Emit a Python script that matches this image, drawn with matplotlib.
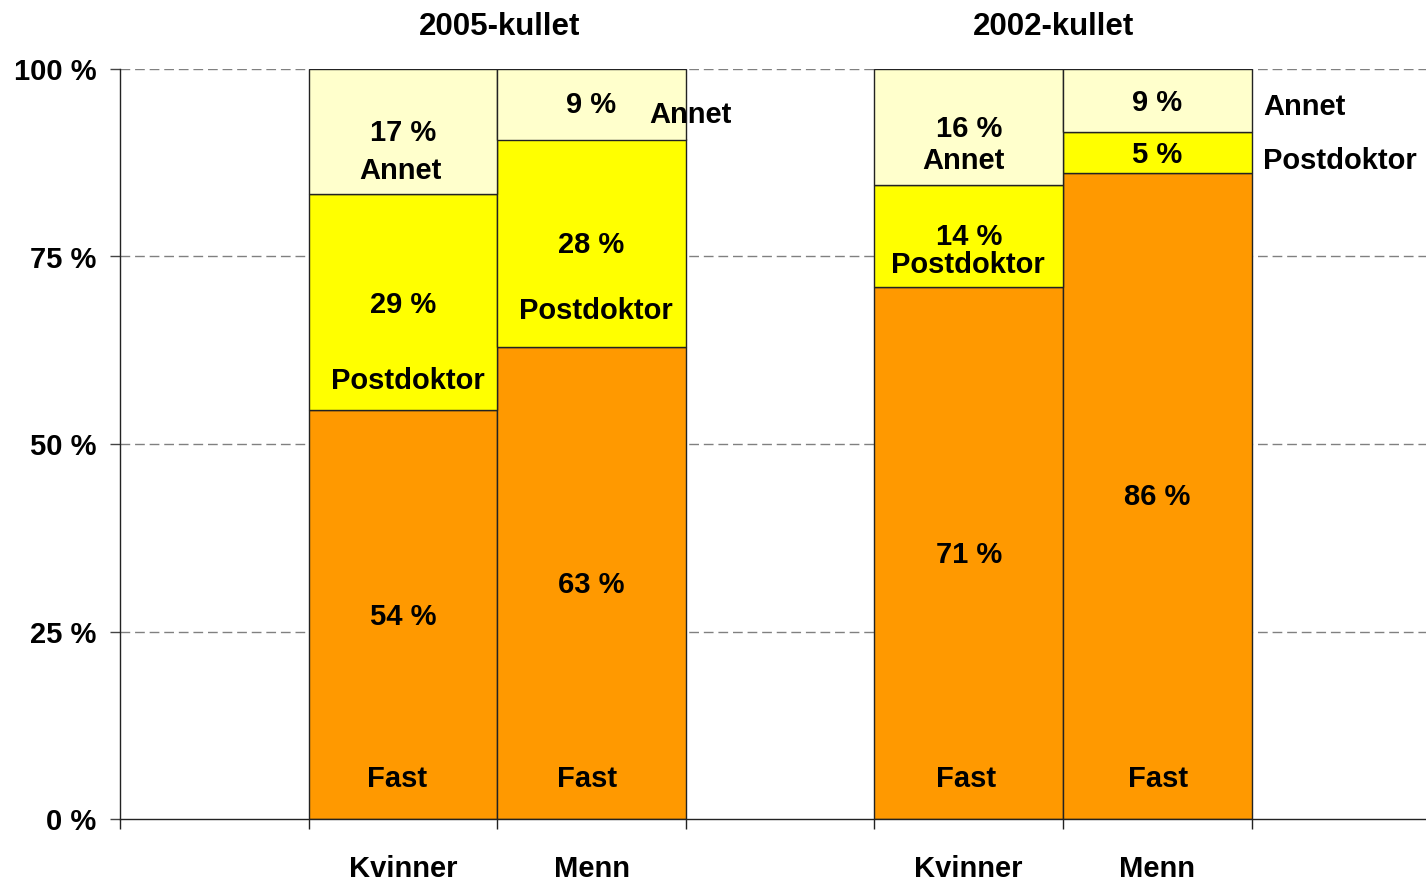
import matplotlib
matplotlib.use("Agg")
import matplotlib.pyplot as plt
import numpy as np

plt.rcParams['font.family'] = ['Liberation Sans', 'DejaVu Sans']
plt.rcParams['font.weight'] = 'bold'

# Data
cohorts = ["2005-kullet", "2002-kullet"]
groups = ["Kvinner", "Menn", "Kvinner", "Menn"]
fast = [54.5, 62.9, 70.9, 86.1]
postdoktor = [28.8, 27.7, 13.6, 5.5]
annet = [16.7, 9.4, 15.5, 8.4]
fast_lbl = ["54 %", "63 %", "71 %", "86 %"]
post_lbl = ["29 %", "28 %", "14 %", "5 %"]
annet_lbl = ["17 %", "9 %", "16 %", "9 %"]
y_ticks = [0, 25, 50, 75, 100]
y_ticklabels = ["0 %", "25 %", "50 %", "75 %", "100 %"]

c_fast = "#FF9900"
c_post = "#FFFF00"
c_annet = "#FFFFCC"

FS = 21
W, H = 1426, 880
fig = plt.figure(figsize=(W / 100, H / 100), dpi=100)
ax = fig.add_axes([120 / W, (880 - 819) / H, (1426 - 120) / W, (819 - 69) / H])

slot = 188.6
xmax = (1426 - 120) / slot
xpos = np.array([1.5, 2.5, 4.5, 5.5])

fast = np.array(fast); postdoktor = np.array(postdoktor); annet = np.array(annet)
kw = dict(width=1.0, edgecolor="#222222", linewidth=1.0, zorder=3)
ax.bar(xpos, fast, color=c_fast, **kw)
ax.bar(xpos, postdoktor, bottom=fast, color=c_post, **kw)
ax.bar(xpos, annet, bottom=fast + postdoktor, color=c_annet, **kw)

ax.set_xlim(0, xmax)
ax.set_ylim(0, 100)

# grid
for yv in y_ticks[1:]:
    ax.axhline(yv, color="#808080", linestyle=(0, (7, 3.5)), linewidth=1.0, zorder=1)

ax.set_yticks(y_ticks)
ax.set_yticklabels(y_ticklabels, fontsize=FS, fontweight='bold')
ax.tick_params(axis='y', length=7, width=1, color="#444444", pad=10)

ax.set_xticks(np.arange(0, 7))
ax.set_xticklabels([])
ax.set_xticks(xpos, minor=True)
ax.set_xticklabels(groups, minor=True, fontsize=FS, fontweight='bold')
ax.tick_params(axis='x', which='major', length=7, width=1, color="#222222")
ax.tick_params(axis='x', which='minor', length=0, pad=26)

for s in ["top", "right"]:
    ax.spines[s].set_visible(False)
for s in ["left", "bottom"]:
    ax.spines[s].set_color("#222222")
    ax.spines[s].set_linewidth(1.0)
    ax.spines[s].set_zorder(4)

def px2d(px, py):
    return (px - 120) / slot, (819 - py) / 7.5

tk = dict(fontsize=FS, fontweight='bold', ha='center', va='center', zorder=5)
dy = 2  # small downward shift

# titles
ax.text(*px2d(500, 25 + dy), cohorts[0], fontsize=22.5, fontweight='bold', ha='center', va='center', clip_on=False)
ax.text(*px2d(1054, 25 + dy), cohorts[1], fontsize=22.5, fontweight='bold', ha='center', va='center', clip_on=False)

# value labels (positions tuned to reference)
fast_val_y = [615, 583, 553, 495]
post_val_y = [303, 243, 235, 153]
annet_val_y = [131, 103, 127, 101]
for i, x in enumerate(xpos):
    xc = 120 + x * slot
    ax.text(*px2d(xc, fast_val_y[i] + dy), fast_lbl[i], **tk)
    ax.text(*px2d(xc, post_val_y[i] + dy), post_lbl[i], **tk)
    ax.text(*px2d(xc, annet_val_y[i] + dy), annet_lbl[i], **tk)

# category name labels
fast_name = [(397, 777), (587, 777), (966, 777), (1158, 777)]
for (px, py) in fast_name:
    ax.text(*px2d(px, py + dy), "Fast", **tk)
ax.text(*px2d(408, 379 + dy), "Postdoktor", **tk)
ax.text(*px2d(596, 309 + dy), "Postdoktor", **tk)
ax.text(*px2d(968, 263 + dy), "Postdoktor", **tk)
ax.text(*px2d(400, 169 + dy), "Annet", **tk)
ax.text(*px2d(690, 113 + dy), "Annet", **tk)
ax.text(*px2d(963, 159 + dy), "Annet", **tk)
ax.text(*px2d(1263, 105 + dy), "Annet", fontsize=FS, fontweight='bold', ha='left', va='center', clip_on=False)
ax.text(*px2d(1263, 159 + dy), "Postdoktor", fontsize=FS, fontweight='bold', ha='left', va='center', clip_on=False)

fig.savefig("out.png", dpi=100)
